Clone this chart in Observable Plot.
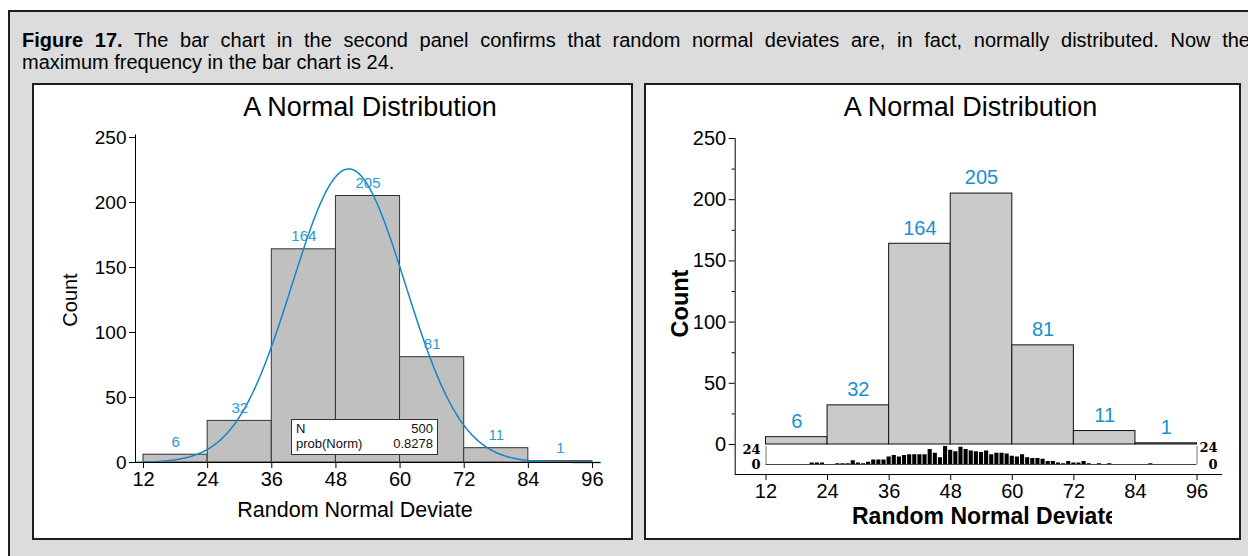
<!DOCTYPE html>
<html>
<head>
<meta charset="utf-8">
<script src="https://cdn.jsdelivr.net/npm/d3@7"></script>
<script src="https://cdn.jsdelivr.net/npm/@observablehq/plot@0.6"></script>
<style>
  html, body { margin: 0; padding: 0; background: #fff; width: 1248px; height: 556px; overflow: hidden;
    font-family: "Liberation Sans", Arial, sans-serif; }
  #figure { position: absolute; left: 8px; top: 10px; width: 1270px; height: 580px; background: #dcdcdc;
    border: 2px solid #1e1e1e; box-sizing: border-box; }
  .cap { position: absolute; left: 22px; font-size: 20px; line-height: 22px; color: #000; white-space: nowrap; }
  #cap1 { top: 28.5px; }
  #cap2 { top: 50.5px; }
  .panel { position: absolute; top: 83px; height: 457px; background: #fff; border: 2px solid #1e1e1e; box-sizing: border-box; }
  .chart { position: absolute; top: 85px; }
  .stats { position: absolute; left: 291px; top: 419px; width: 147px; height: 36px; background: #fff;
    border: 1px solid #333; box-sizing: border-box; font-size: 13px; color: #111; padding: 1px 4px 0 4px; line-height: 15px; }
  .stats div { display: flex; justify-content: space-between; }
  #xlabClip { position: absolute; left: 852px; top: 502px; width: 260px; height: 30px; overflow: hidden; }
  #xlabClip span { position: absolute; left: 0; font-size: 23px; font-weight: bold; color: #000; line-height: 28px; white-space: nowrap; }
</style>
</head>
<body>
<div id="figure"></div>
<div class="cap" id="cap1"><b>Figure 17.</b> The bar chart in the second panel confirms that random normal deviates are, in fact, normally distributed. Now the</div>
<div class="cap" id="cap2">maximum frequency in the bar chart is 24.</div>
<div class="panel" style="left:32px;width:601px;"></div>
<div class="panel" style="left:644px;width:597px;"></div>
<div class="chart" id="leftChart" style="left:34px;"></div>
<div class="chart" id="rightChart" style="left:646px;"></div>
<div class="chart" id="stripChart" style="left:646px;"></div>
<div class="stats" id="stats"></div>
<div id="xlabClip"><span id="xlabRight"></span></div>
<script>
// Histogram: 500 random normal deviates in bins of width 12
const binEdges = [12, 24, 36, 48, 60, 72, 84, 96];
const binCounts = [6, 32, 164, 205, 81, 11, 1];
const xTicks = [12, 24, 36, 48, 60, 72, 84, 96];
const yTicks = [0, 50, 100, 150, 200, 250];
const yMinorTicks = [25, 75, 125, 175, 225];

// Fitted normal curve parameters (sample size, bin width, mean, sd)
const sampleSize = 500;
const binWidth = 12;
const fitMean = 50.4;
const fitSD = 10.6;

// Summary statistics shown in the box
const statNames = ["N", "prob(Norm)"];
const statValues = ["500", "0.8278"];

// Frequency of each individual deviate value (values not listed have zero count)
const deviateValues = [21, 22, 23, 26, 27, 28, 29, 30, 31, 32, 33, 34, 35,
  36, 37, 38, 39, 40, 41, 42, 43, 44, 45, 46, 47,
  48, 49, 50, 51, 52, 53, 54, 55, 56, 57, 58, 59,
  60, 61, 62, 63, 64, 65, 66, 67, 68, 69, 70, 71,
  72, 73, 74, 75, 77, 79, 87];
const deviateCounts = [2, 2, 2, 1, 1, 1, 5, 2, 1, 3, 6, 6, 6,
  10, 12, 10, 12, 13, 13, 13, 13, 20, 15, 9, 24,
  19, 17, 23, 20, 18, 17, 16, 18, 13, 15, 15, 14,
  11, 10, 13, 9, 8, 8, 7, 4, 4, 2, 1, 4,
  2, 2, 4, 1, 1, 1, 1];
const stripMax = 24;
const stripMin = 0;

const chartTitle = "A Normal Distribution";
const xLabel = "Random Normal Deviate";
const yLabel = "Count";

const bins = binCounts.map((n, i) => ({x1: binEdges[i], x2: binEdges[i + 1], n}));
const deviates = deviateValues.map((v, i) => ({v, n: deviateCounts[i]}));

const peak = sampleSize * binWidth / (fitSD * Math.sqrt(2 * Math.PI));
const curve = d3.range(10.5, 97.51, 0.25).map(x => ({x, y: peak * Math.exp(-0.5 * ((x - fitMean) / fitSD) ** 2)}));

const font = '"Liberation Sans", Arial, sans-serif';
const baseStyle = {fontFamily: font, color: "#000", background: "transparent", overflow: "visible"};
const label = {textAnchor: "middle", lineAnchor: "middle", fill: "#000"};

// Left panel: histogram with normal curve
const leftPlot = Plot.plot({
  width: 597, height: 453,
  marginLeft: 101, marginRight: 31, marginTop: 52, marginBottom: 76,
  style: baseStyle,
  x: {domain: [10.5, 97.5], label: null},
  y: {domain: [0, 250], label: null},
  marks: [
    Plot.rectY(bins, {x1: "x1", x2: "x2", y: "n", fill: "#c0c0c0", stroke: "#333", strokeWidth: 1}),
    Plot.line(curve, {x: "x", y: "y", stroke: "#1486c8", strokeWidth: 1.5}),
    Plot.text(bins, {x: d => (d.x1 + d.x2) / 2, y: "n", text: d => String(d.n), dy: -13, fill: "#2a9ad6", fontSize: 15}),
    Plot.ruleX([10.5], {y1: 0, y2: 252, stroke: "#000"}),
    Plot.ruleY([0], {x1: 10.5, x2: 97.5, stroke: "#000"}),
    Plot.axisY({ticks: yTicks, tickSize: 6, tickPadding: 3, fontSize: 19, tickFormat: d => String(d), label: null}),
    Plot.axisX({ticks: xTicks, tickSize: 6, tickPadding: 3, fontSize: 20, tickFormat: d => String(d), label: null}),
    Plot.text([chartTitle], {...label, text: d => d, frameAnchor: "top", dy: -30, dx: 2, fontSize: 27}),
    Plot.text([yLabel], {...label, text: d => d, frameAnchor: "left", rotate: -90, dx: -65, fontSize: 20}),
    Plot.text([xLabel], {...label, text: d => d, frameAnchor: "bottom", dy: 48, dx: -13, fontSize: 21.5})
  ]
});
document.getElementById("leftChart").append(leftPlot);

// Right panel: histogram with labelled counts
const rightPlot = Plot.plot({
  width: 593, height: 453,
  marginLeft: 88.7, marginRight: 16.8, marginTop: 53, marginBottom: 64,
  style: baseStyle,
  x: {domain: [6, 101], label: null},
  y: {domain: [-24.5, 250], label: null},
  marks: [
    Plot.rectY(bins, {x1: "x1", x2: "x2", y: "n", fill: "#cacaca", stroke: "#111", strokeWidth: 1}),
    Plot.text(bins, {x: d => (d.x1 + d.x2) / 2, y: "n", text: d => String(d.n), dy: -15.5, fill: "#1a8fd0", fontSize: 20}),
    Plot.ruleX([6], {y1: -24.5, y2: 250, stroke: "#000"}),
    Plot.ruleY([-24.5], {x1: 6, x2: 101, stroke: "#000"}),
    Plot.axisY({ticks: yTicks, tickSize: 6, tickPadding: 3, fontSize: 20, tickFormat: d => String(d), label: null}),
    Plot.axisY({ticks: yMinorTicks, tickSize: 3, tickFormat: () => "", label: null}),
    Plot.axisX({ticks: xTicks, tickSize: 6, tickPadding: 3, fontSize: 20, tickFormat: d => String(d), label: null}),
    Plot.text([chartTitle], {...label, text: d => d, frameAnchor: "top", dy: -31, dx: -8.5, fontSize: 27}),
    Plot.text([yLabel], {...label, text: d => d, frameAnchor: "left", rotate: -90, dx: -55, dy: -3, fontSize: 23.5, fontWeight: "bold"})
  ]
});
document.getElementById("rightChart").append(rightPlot);

// Inset strip: frequency of each deviate value
const stripFont = {fontFamily: '"DejaVu Serif", serif', fontWeight: "bold", fontSize: 13, fill: "#000", textAnchor: "end", lineAnchor: "middle"};
const stripPlot = Plot.plot({
  width: 593, height: 453,
  marginLeft: 119.5, marginRight: 42.5, marginTop: 361, marginBottom: 74,
  style: baseStyle,
  x: {domain: [12, 96], label: null, axis: null},
  y: {domain: [0, 24], label: null, axis: null},
  marks: [
    Plot.rectY(deviates, {x1: d => d.v - 0.5, x2: d => d.v + 0.5, y: "n", insetLeft: 0.5, insetRight: 0.5, fill: "#000"}),
    Plot.ruleX([12, 96], {y1: 0, y2: 24, stroke: "#777"}),
    Plot.ruleY([0], {x1: 12, x2: 96, stroke: "#444"}),
    Plot.text([stripMax], {...stripFont, y: d => d, text: d => String(d), frameAnchor: "left", dx: -5.5, dy: 3}),
    Plot.text([stripMin], {...stripFont, y: d => d, text: d => String(d), frameAnchor: "left", dx: -5.5, dy: 0}),
    Plot.text([stripMax], {...stripFont, y: d => d, text: d => String(d), frameAnchor: "right", dx: 20.5, dy: 1}),
    Plot.text([stripMin], {...stripFont, y: d => d, text: d => String(d), frameAnchor: "right", dx: 20.5, dy: 0})
  ]
});
document.getElementById("stripChart").append(stripPlot);

// Summary statistics box
const statsBox = document.getElementById("stats");
statNames.forEach((name, i) => {
  const row = document.createElement("div");
  const a = document.createElement("span"); a.textContent = name;
  const b = document.createElement("span"); b.textContent = statValues[i];
  row.append(a, b);
  statsBox.append(row);
});
document.getElementById("xlabRight").textContent = xLabel;

// Spread the first caption line across the full figure width by widening word gaps
const cap1 = document.getElementById("cap1");
const natural = cap1.getBoundingClientRect().width;
const gaps = (cap1.textContent.match(/ /g) || []).length;
cap1.style.wordSpacing = Math.max(0, (1228 - natural) / gaps).toFixed(3) + "px";
</script>
</body>
</html>
